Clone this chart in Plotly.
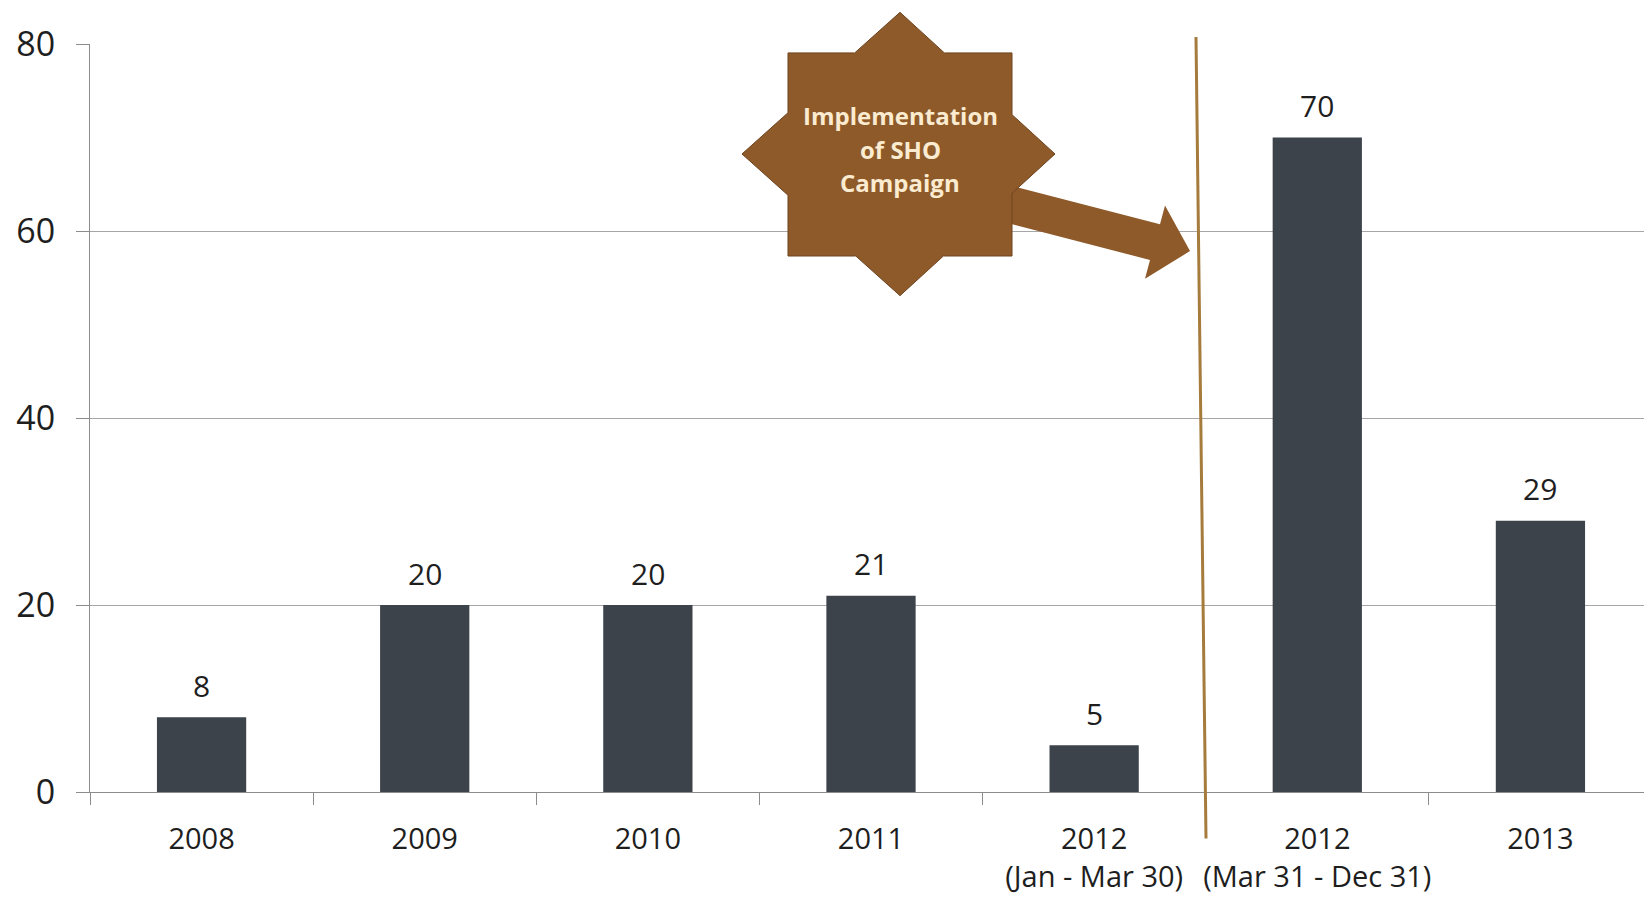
import plotly.graph_objects as go

# ---- data ----
categories = ["2008", "2009", "2010", "2011",
              "2012<br>(Jan - Mar 30)", "2012<br>(Mar 31 - Dec 31)", "2013"]
values = [8, 20, 20, 21, 5, 70, 29]
y_ticks = [0, 20, 40, 60, 80]
callout_lines = ["Implementation", "of SHO", "Campaign"]

# ---- layout geometry (pixels) ----
OFF = 8                     # browser body margin
W, H = 1652 - OFF, 903 - 2 * OFF
ML, MR, MT, MB = 82, 0, 36, 96
PW, PH = W - ML - MR, H - MT - MB

def px(x):
    return (x - OFF - ML) / PW

def py(y):
    return (H - MB - (y - OFF)) / PH

def path(points):
    return "M " + " L ".join(f"{px(x):.5f},{py(y):.5f}" for x, y in points) + " Z"

BAR = "#3D434B"
BROWN = "#8E5A2A"
FONT = "Open Sans, Liberation Sans, sans-serif"
TXT = "#1E1E1E"

fig = go.Figure()
fig.add_trace(go.Bar(x=categories, y=values, marker=dict(color=BAR, line=dict(width=0)),
                     width=0.4, hoverinfo="skip"))

# value labels (category index positions)
for i, v in enumerate(values):
    fig.add_annotation(x=i, y=v, xref="x", yref="y", text=str(v), showarrow=False,
                       yanchor="middle", yshift=32,
                       font=dict(size=30, color=TXT, family=FONT))

# 8-point star (union of square and diamond), arrow, divider line
star = [(900, 12), (944.4, 53), (1012, 53), (1012, 115.3), (1055, 155), (1012, 194.7),
        (1012, 258), (943.4, 258), (900, 298), (855.8, 258), (788, 258), (788, 196.6),
        (742, 155), (788, 113.4), (788, 53), (854.7, 53)]
arrow = [(986, 219), (1150, 262), (1145, 281), (1190, 253), (1165, 207), (1160, 226), (996, 183)]

fig.add_shape(type="line", xref="paper", yref="paper",
              x0=px(1196), y0=py(37), x1=px(1206), y1=py(846),
              line=dict(color="#A67C3D", width=3), layer="above")
fig.add_shape(type="path", xref="paper", yref="paper", path=path(arrow),
              fillcolor=BROWN, line=dict(width=0), layer="above")
fig.add_shape(type="path", xref="paper", yref="paper", path=path(star),
              fillcolor=BROWN, line=dict(color="#6E4420", width=1), layer="above")
for line_text, ly in zip(callout_lines, [116, 150, 184]):
    fig.add_annotation(xref="paper", yref="paper", x=px(900), y=py(ly), text=line_text,
                       showarrow=False, xanchor="center", yanchor="middle",
                       font=dict(size=24, color="#FBEBD0", family=FONT, weight="bold"))

fig.update_layout(
    width=W, height=H,
    margin=dict(l=ML, r=MR, t=MT, b=MB),
    paper_bgcolor="white", plot_bgcolor="white",
    showlegend=False,
    font=dict(family=FONT, color=TXT),
    bargap=0.6,
)
fig.update_xaxes(
    type="category", range=[-0.5, len(categories) - 0.5],
    tickson="boundaries", ticks="outside", ticklen=12,
    tickcolor="#8C8C8C", tickwidth=1, showline=True, linecolor="#8C8C8C", linewidth=1,
    showgrid=False, tickfont=dict(size=29, color=TXT, family=FONT),
    ticklabelstandoff=21, tickangle=0,
)
fig.update_yaxes(
    range=[0, 80], tickvals=y_ticks, ticks="outside", ticklen=13,
    tickcolor="#8C8C8C", showline=True, linecolor="#8C8C8C", linewidth=1,
    showgrid=True, gridcolor="#A6A6A6", gridwidth=1, zeroline=False,
    tickfont=dict(size=34, color=TXT, family=FONT), ticklabelstandoff=14,
)

fig.write_html("out.html")
